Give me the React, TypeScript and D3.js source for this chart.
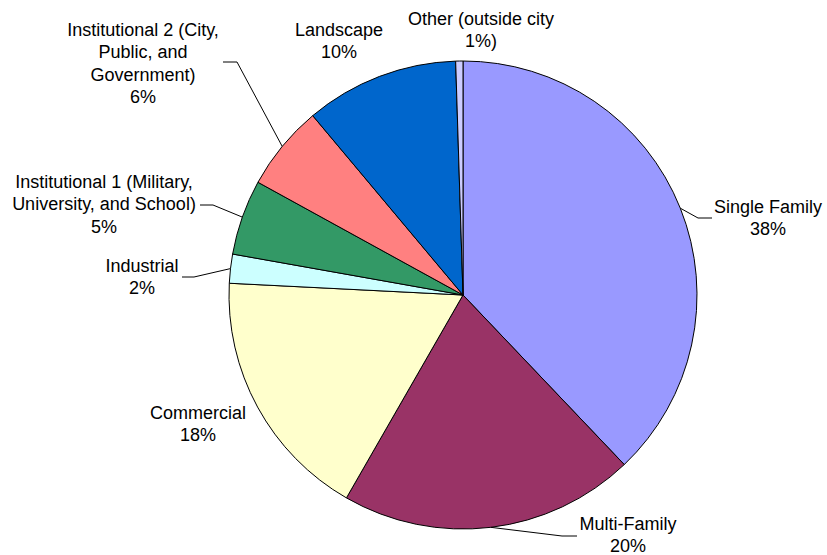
import React, { useEffect, useRef } from "react";
import * as d3 from "d3";

const categories = [
  "Single Family",
  "Multi-Family",
  "Commercial",
  "Industrial",
  "Institutional 1 (Military, University, and School)",
  "Institutional 2 (City, Public, and Government)",
  "Landscape",
  "Other (outside city",
];
const labelLines = [
  ["Single Family"],
  ["Multi-Family"],
  ["Commercial"],
  ["Industrial"],
  ["Institutional 1 (Military,", "University, and School)"],
  ["Institutional 2 (City,", "Public, and", "Government)"],
  ["Landscape"],
  ["Other (outside city"],
];
const percentLabels = ["38%", "20%", "18%", "2%", "5%", "6%", "10%", "1%)"];
const values = [37.9, 20.4, 17.5, 2.0, 5.2, 5.9, 10.6, 0.5];
const colors = ["#9999FF", "#993366", "#FFFFCC", "#CCFFFF", "#339966", "#FF8080", "#0066CC", "#CCCCFF"];

// label layout: center x, first baseline y, leader elbow points (or null)
const labelLayout: { x: number; y: number; leader: number[][] | null }[] = [
  { x: 768, y: 213, leader: [[698, 218], [712, 218]] },
  { x: 628, y: 530, leader: [[562, 536], [577, 536]] },
  { x: 198, y: 419, leader: null },
  { x: 142, y: 272, leader: [[194, 277], [182, 277]] },
  { x: 104, y: 188, leader: [[213, 205], [200, 205]] },
  { x: 143, y: 36, leader: [[237, 62], [223, 62]] },
  { x: 339, y: 36, leader: null },
  { x: 481, y: 25, leader: null },
];

const W = 827, H = 555;
const CX = 463, CY = 295, R = 234;
const LINE = 22.3;

export default function App() {
  const ref = useRef<SVGSVGElement>(null);
  useEffect(() => {
    const svg = d3.select(ref.current);
    svg.selectAll("*").remove();
    const pie = d3.pie<number>().sort(null).value((d) => d);
    const arcs = pie(values);
    const arc = d3.arc<d3.PieArcDatum<number>>().innerRadius(0).outerRadius(R);
    const g = svg.append("g").attr("transform", `translate(${CX},${CY})`);
    g.selectAll("path")
      .data(arcs)
      .join("path")
      .attr("d", arc as any)
      .attr("fill", (_, i) => colors[i])
      .attr("stroke", "#000")
      .attr("stroke-width", 1)
      .attr("stroke-linejoin", "round");

    arcs.forEach((a, i) => {
      const lay = labelLayout[i];
      if (lay.leader) {
        const mid = (a.startAngle + a.endAngle) / 2;
        const p0 = [CX + R * Math.sin(mid), CY - R * Math.cos(mid)];
        const pts = [p0, ...lay.leader];
        svg
          .append("path")
          .attr("d", d3.line()(pts as [number, number][]))
          .attr("fill", "none")
          .attr("stroke", "#000")
          .attr("stroke-width", 1);
      }
      const lines = [...labelLines[i], percentLabels[i]];
      const t = svg
        .append("text")
        .attr("text-anchor", "middle")
        .attr("font-family", "'Liberation Sans', Arial, sans-serif")
        .attr("font-size", 18)
        .attr("fill", "#000");
      lines.forEach((ln, j) => {
        t.append("tspan").attr("x", lay.x).attr("y", lay.y + j * LINE).text(ln);
      });
    });
  }, []);
  return (
    <svg
      ref={ref}
      width={W}
      height={H}
      style={{ position: "absolute", left: 0, top: 0, background: "#fff" }}
    />
  );
}
